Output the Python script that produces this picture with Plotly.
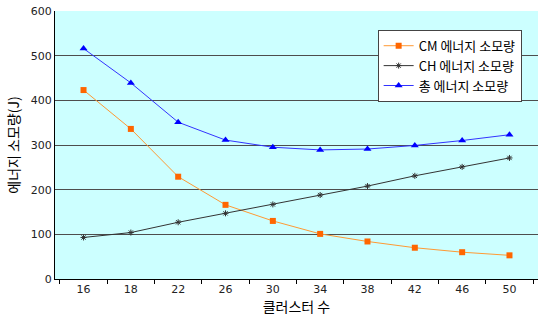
import plotly.graph_objects as go

categories = ["16", "18", "22", "26", "30", "34", "38", "42", "46", "50"]
cm_energy = [423, 336, 229, 166, 130, 101, 84, 70, 60, 53]
ch_energy = [93, 104, 127, 147, 167, 188, 208, 231, 251, 271]
total_energy = [516, 439, 351, 311, 295, 289, 291, 299, 310, 323]
y_ticks = [0, 100, 200, 300, 400, 500, 600]

fig = go.Figure()
fig.add_trace(go.Scatter(
    x=categories, y=cm_energy, name="CM 에너지 소모량", mode="lines+markers",
    line=dict(color="#FF9933", width=1),
    marker=dict(symbol="square", size=6, color="#FF6600"),
))
fig.add_trace(go.Scatter(
    x=categories, y=ch_energy, name="CH 에너지 소모량", mode="lines+markers",
    line=dict(color="#333333", width=1),
    marker=dict(symbol="asterisk-open", size=5, color="#333333", line=dict(width=1, color="#333333")),
))
fig.add_trace(go.Scatter(
    x=categories, y=total_energy, name="총 에너지 소모량", mode="lines+markers",
    line=dict(color="#3333FF", width=1),
    marker=dict(symbol="triangle-up", size=7, color="#0000FF"),
))

fig.update_layout(
    width=539, height=326,
    margin=dict(l=55, r=1, t=11, b=47),
    paper_bgcolor="white",
    plot_bgcolor="#CCFFFF",
    font=dict(family="Noto Sans CJK KR, DejaVu Sans, sans-serif", size=11, color="black"),
    showlegend=True,
    legend=dict(
        x=0.668, y=0.93, xanchor="left", yanchor="top",
        bgcolor="white", bordercolor="#444444", borderwidth=1,
        font=dict(family="Noto Sans CJK KR, sans-serif", size=13, color="black"),
        tracegroupgap=0, itemwidth=30,
    ),
    xaxis=dict(
        type="category", categoryorder="array", categoryarray=categories,
        tickson="boundaries", ticks="outside", ticklen=4, tickcolor="black",
        showline=True, linecolor="black", linewidth=1, showgrid=False,
        automargin=False,
        tickfont=dict(family="DejaVu Sans, sans-serif", size=11, color="#222222"),
        title=dict(text="클러스터 수", font=dict(family="Noto Sans CJK KR, sans-serif", size=14), standoff=5),
    ),
    yaxis=dict(
        range=[0, 600], tickvals=y_ticks, ticks="", showline=True, linecolor="black", linewidth=1,
        showgrid=True, gridcolor="#4D4D4D", gridwidth=1, zeroline=False,
        automargin=False, ticklabeloverflow="allow",
        tickfont=dict(family="DejaVu Sans, sans-serif", size=11, color="#222222"),
        title=dict(text="에너지 소모량(J)", font=dict(family="Noto Sans CJK KR, sans-serif", size=14), standoff=7),
    ),
)

fig.write_html(
    "out.html",
    config={"displayModeBar": False},
    post_script="document.body.style.margin='0px';",
)
